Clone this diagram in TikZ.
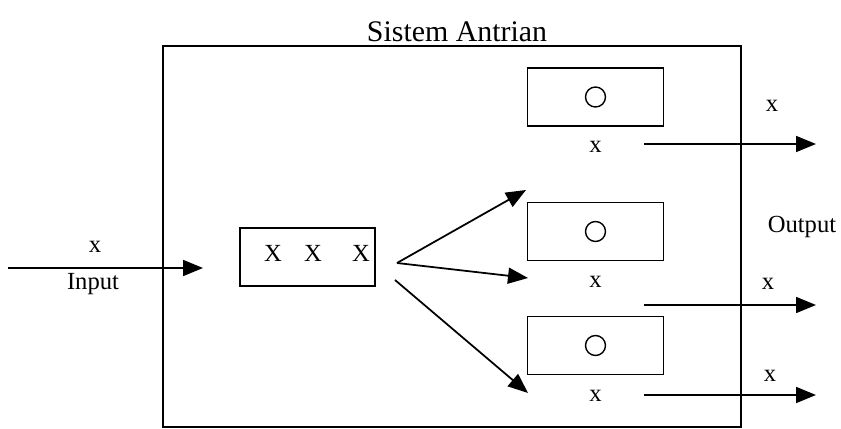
\documentclass[tikz,border=0pt]{standalone}
\usepackage{fontspec}
\setmainfont{Liberation Serif}
\usetikzlibrary{positioning,arrows.meta}

\begin{document}
\begin{tikzpicture}[
    draw=black,
    node distance=0.24cm,line width=1pt,
    %
    frame/.style={draw=black, rectangle, minimum width=11.56cm, minimum height=7.62cm},
    queue/.style={draw=black, rectangle, minimum width=2.7cm, minimum height=1.16cm},
    server/.style={draw=black, rectangle, minimum width=2.72cm, minimum height=1.16cm},
    unit/.style={draw=black, circle, line width=0.8pt, minimum size=0.4cm, inner sep=0pt},
    lbl/.style={font=\fontsize{14}{16}\selectfont, inner sep=1pt},
    %
    pre/.style={-{Triangle[length=0.4cm,width=0.32cm]}}
    ]
    \useasboundingbox (0,0) rectangle (16.82,-8.58);

    \node[frame] (sistem) at (9.04,-4.73) {};
    \node[font=\fontsize{17}{20}\selectfont] (judul) at (9.14,-0.64) {Sistem Antrian};
    %
    \node[queue] (antri) at (6.15,-5.14) {};
    \node[lbl] (q1) at (5.46,-5.06) {X};
    \node[lbl] (q2) at (6.26,-5.06) {X};
    \node[lbl] (q3) at (7.22,-5.06) {X};
    %
    \node[server] (s1) at (11.91,-1.94) {};
    \node[server] (s2) at (11.91,-4.63) {};
    \node[server] (s3) at (11.91,-6.91) {};
    \node[unit] (c1) at (s1) {};
    \node[unit] (c2) at (s2) {};
    \node[unit] (c3) at (s3) {};
    \node[lbl, below=of s1] (x1) {x};
    \node[lbl, below=of s2] (x2) {x};
    \node[lbl, below=of s3] (x3) {x};
    %
    % input
    \coordinate (in0) at (0.16,-5.36);
    \coordinate (in1) at (4.06,-5.36);
    \draw[pre] (in0) -- (in1);
    \node[lbl] (xin) at (1.9,-4.94) {x};
    \node[lbl] (input) at (1.86,-5.68) {Input};
    %
    % cabang ke pelayan
    \coordinate (fan1) at (7.94,-5.26);
    \coordinate (fan2) at (7.9,-5.6);
    \coordinate (t1) at (10.52,-3.8);
    \coordinate (t2) at (10.56,-5.56);
    \coordinate (t3) at (10.56,-7.86);
    \draw[pre] (fan1) -- (t1);
    \draw[pre] (fan1) -- (t2);
    \draw[pre] (fan2) -- (t3);
    %
    % output
    \coordinate (o1) at (12.88,-2.88);
    \coordinate (o2) at (12.88,-6.1);
    \coordinate (o3) at (12.88,-7.9);
    \coordinate (e1) at (16.32,-2.88);
    \coordinate (e2) at (16.32,-6.1);
    \coordinate (e3) at (16.32,-7.9);
    \draw[pre] (o1) -- (e1);
    \draw[pre] (o2) -- (e2);
    \draw[pre] (o3) -- (e3);
    \node[lbl] (y1) at (15.44,-2.12) {x};
    \node[lbl] (y2) at (15.36,-5.68) {x};
    \node[lbl] (y3) at (15.4,-7.52) {x};
    \node[lbl] (output) at (16.04,-4.54) {Output};
    %
\end{tikzpicture}
\end{document}
